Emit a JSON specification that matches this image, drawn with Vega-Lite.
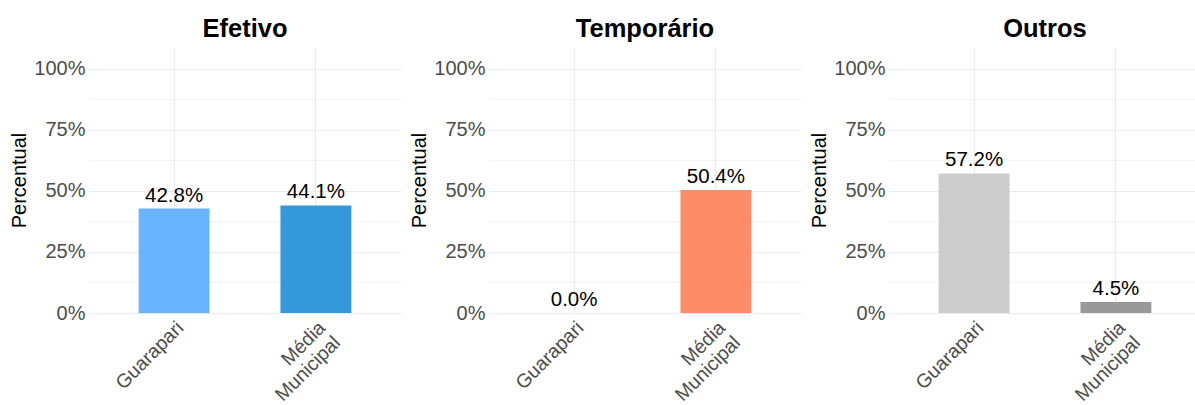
{
  "$schema": "https://vega.github.io/schema/vega-lite/v6.json",
  "background": "white",
  "padding": {"left": 9, "top": 16, "right": 0, "bottom": 0},
  "datasets": {
    "tabela": [
      {"tipo": "Efetivo", "grupo": "Guarapari", "valor": 0.428},
      {"tipo": "Efetivo", "grupo": "Média Municipal", "valor": 0.441},
      {"tipo": "Temporário", "grupo": "Guarapari", "valor": 0.0},
      {"tipo": "Temporário", "grupo": "Média Municipal", "valor": 0.504},
      {"tipo": "Outros", "grupo": "Guarapari", "valor": 0.572},
      {"tipo": "Outros", "grupo": "Média Municipal", "valor": 0.045}
    ]
  },
  "data": {"name": "tabela"},
  "config": {
    "font": "Liberation Sans",
    "view": {"stroke": null},
    "concat": {"spacing": 88},
    "title": {"fontSize": 25.5, "fontWeight": "bold", "color": "black", "anchor": "middle", "offset": 5},
    "axisY": {
      "labelFontSize": 20, "labelColor": "#4D4D4D", "labelPadding": 4,
      "ticks": false, "domain": false,
      "titleFontSize": 20, "titleFontWeight": "normal", "titleColor": "black", "titlePadding": 4,
      "gridColor": "#EBEBEB"
    },
    "axisX": {
      "labelFontSize": 19.5, "labelColor": "#4D4D4D", "labelPadding": 5,
      "labelAngle": -45, "labelAlign": "right", "labelBaseline": "top", "labelLineHeight": 21,
      "ticks": false, "domain": false, "grid": true, "gridColor": "#EBEBEB", "gridWidth": 1.1
    }
  },
  "bounds": "flush",
  "resolve": {"scale": {"color": "independent"}},
  "hconcat": [
    {
      "title": "Efetivo",
      "width": 312, "height": 266,
      "transform": [{"filter": "datum.tipo == 'Efetivo'"}],
      "encoding": {
        "x": {"field": "grupo", "type": "nominal", "sort": null, "title": null,
          "scale": {"paddingInner": 0.5, "paddingOuter": 0.35},
          "axis": {"bandPosition": 0.5, "labelExpr": "datum.label == 'Média Municipal' ? ['Média', 'Municipal'] : datum.label"}},
        "y": {"field": "valor", "type": "quantitative",
          "scale": {"domain": [0, 1.09], "nice": false},
          "axis": {"title": "Percentual", "values": [0, 0.125, 0.25, 0.375, 0.5, 0.625, 0.75, 0.875, 1],
            "labelExpr": "(datum.value * 4) % 1 == 0 ? format(datum.value, '.0%') : ''",
            "gridWidth": {"condition": {"test": "(datum.value * 4) % 1 != 0", "value": 0.6}, "value": 1.1}}}
      },
      "layer": [
        {"mark": {"type": "bar"},
         "encoding": {"color": {"field": "grupo", "type": "nominal", "legend": null,
           "scale": {"domain": ["Guarapari", "Média Municipal"], "range": ["#69B3FF", "#3498DB"]}}}},
        {"mark": {"type": "text", "dy": -7, "baseline": "alphabetic", "fontSize": 20.5, "color": "black"},
         "encoding": {"text": {"field": "valor", "type": "quantitative", "format": ".1%"}}}
      ]
    },
    {
      "title": "Temporário",
      "width": 312, "height": 266,
      "transform": [{"filter": "datum.tipo == 'Temporário'"}],
      "encoding": {
        "x": {"field": "grupo", "type": "nominal", "sort": null, "title": null,
          "scale": {"paddingInner": 0.5, "paddingOuter": 0.35},
          "axis": {"bandPosition": 0.5, "labelExpr": "datum.label == 'Média Municipal' ? ['Média', 'Municipal'] : datum.label"}},
        "y": {"field": "valor", "type": "quantitative",
          "scale": {"domain": [0, 1.09], "nice": false},
          "axis": {"title": "Percentual", "values": [0, 0.125, 0.25, 0.375, 0.5, 0.625, 0.75, 0.875, 1],
            "labelExpr": "(datum.value * 4) % 1 == 0 ? format(datum.value, '.0%') : ''",
            "gridWidth": {"condition": {"test": "(datum.value * 4) % 1 != 0", "value": 0.6}, "value": 1.1}}}
      },
      "layer": [
        {"mark": {"type": "bar"},
         "encoding": {"color": {"field": "grupo", "type": "nominal", "legend": null,
           "scale": {"domain": ["Guarapari", "Média Municipal"], "range": ["#FFB59E", "#FF8C69"]}}}},
        {"mark": {"type": "text", "dy": -7, "baseline": "alphabetic", "fontSize": 20.5, "color": "black"},
         "encoding": {"text": {"field": "valor", "type": "quantitative", "format": ".1%"}}}
      ]
    },
    {
      "title": "Outros",
      "width": 312, "height": 266,
      "transform": [{"filter": "datum.tipo == 'Outros'"}],
      "encoding": {
        "x": {"field": "grupo", "type": "nominal", "sort": null, "title": null,
          "scale": {"paddingInner": 0.5, "paddingOuter": 0.35},
          "axis": {"bandPosition": 0.5, "labelExpr": "datum.label == 'Média Municipal' ? ['Média', 'Municipal'] : datum.label"}},
        "y": {"field": "valor", "type": "quantitative",
          "scale": {"domain": [0, 1.09], "nice": false},
          "axis": {"title": "Percentual", "values": [0, 0.125, 0.25, 0.375, 0.5, 0.625, 0.75, 0.875, 1],
            "labelExpr": "(datum.value * 4) % 1 == 0 ? format(datum.value, '.0%') : ''",
            "gridWidth": {"condition": {"test": "(datum.value * 4) % 1 != 0", "value": 0.6}, "value": 1.1}}}
      },
      "layer": [
        {"mark": {"type": "bar"},
         "encoding": {"color": {"field": "grupo", "type": "nominal", "legend": null,
           "scale": {"domain": ["Guarapari", "Média Municipal"], "range": ["#CCCCCC", "#999999"]}}}},
        {"mark": {"type": "text", "dy": -7, "baseline": "alphabetic", "fontSize": 20.5, "color": "black"},
         "encoding": {"text": {"field": "valor", "type": "quantitative", "format": ".1%"}}}
      ]
    }
  ]
}
